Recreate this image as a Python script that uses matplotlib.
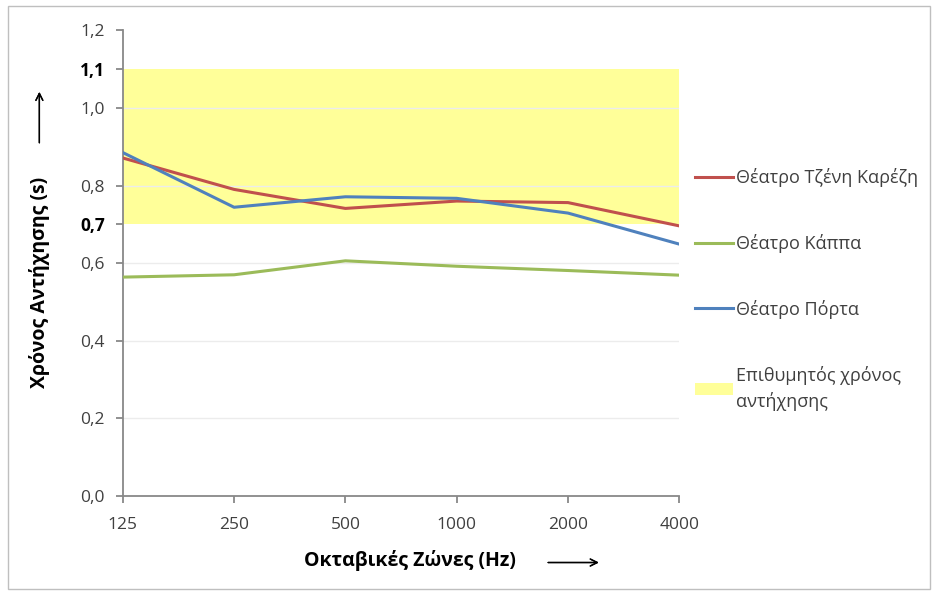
import matplotlib.pyplot as plt
from matplotlib.patches import Rectangle

bands = ["125", "250", "500", "1000", "2000", "4000"]
karezi = [0.871, 0.790, 0.741, 0.760, 0.756, 0.696]
kappa = [0.564, 0.570, 0.606, 0.592, 0.581, 0.569]
porta = [0.885, 0.744, 0.771, 0.767, 0.729, 0.649]
target_low, target_high = 0.7, 1.1
yticks = [0.0, 0.2, 0.4, 0.6, 0.7, 0.8, 1.0, 1.1, 1.2]

plt.rcParams['font.family'] = ['Open Sans', 'DejaVu Sans']

fig = plt.figure(figsize=(9.37, 5.94), dpi=100)
ax = fig.add_axes([0.131, 0.165, 0.594, 0.784])
fig.patches.append(Rectangle((0.009, 0.008), 0.984, 0.982, transform=fig.transFigure,
                             fill=False, edgecolor="#bfbfbf", linewidth=1))

x = list(range(len(bands)))
ax.fill_between(x, target_low, target_high, color="#ffff99", linewidth=0,
                label="Επιθυμητός χρόνος\nαντήχησης", zorder=1)
for v in [0.2, 0.4, 0.6, 0.8, 1.0]:
    ax.axhline(v, color="#ececec", linewidth=1, zorder=2)

ax.plot(x, karezi, color="#c0504d", linewidth=2.2, label="Θέατρο Τζένη Καρέζη", zorder=3)
ax.plot(x, kappa, color="#9bbb59", linewidth=2.2, label="Θέατρο Κάππα", zorder=3)
ax.plot(x, porta, color="#4f81bd", linewidth=2.2, label="Θέατρο Πόρτα", zorder=3)

ax.set_xlim(0, len(bands) - 1)
ax.set_ylim(0, 1.2)
ax.set_xticks(x)
ax.set_xticklabels(bands, fontsize=12.5, color="#404040")
ax.set_yticks(yticks)
ax.set_yticklabels([f"{v:.1f}".replace(".", ",") for v in yticks], fontsize=12.5, color="#404040")
for lbl, v in zip(ax.get_yticklabels(), yticks):
    if v in (target_low, target_high):
        lbl.set_fontweight("bold")
        lbl.set_color("black")

for side in ["top", "right"]:
    ax.spines[side].set_visible(False)
for side in ["left", "bottom"]:
    ax.spines[side].set_color("#888888")
    ax.spines[side].set_linewidth(1.3)
ax.tick_params(axis="both", direction="out", length=5, color="#888888", width=1.3)
ax.tick_params(axis="x", pad=10)
ax.tick_params(axis="y", pad=8)

# axis titles with long arrows
fig.text(0.042, 0.525, "Χρόνος Αντήχησης (s)", rotation=90, fontsize=14,
         fontweight="bold", ha="center", va="center")
arrow = dict(arrowstyle="->,head_length=0.5,head_width=0.25", color="black", linewidth=1)
fig.add_artist(plt.annotate("", xy=(0.042, 0.85), xytext=(0.042, 0.755),
                            xycoords="figure fraction", arrowprops=arrow))
fig.text(0.4375, 0.057, "Οκταβικές Ζώνες (Hz)", fontsize=14, fontweight="bold",
         ha="center", va="center")
fig.add_artist(plt.annotate("", xy=(0.642, 0.053), xytext=(0.582, 0.053),
                            xycoords="figure fraction", arrowprops=arrow))

handles, labels = ax.get_legend_handles_labels()
order = [1, 2, 3, 0]
leg = ax.legend([handles[i] for i in order], [labels[i] for i in order],
                loc="upper left", bbox_to_anchor=(1.015, 0.72), frameon=False,
                fontsize=13, labelspacing=2.6, handlelength=2.1,
                handletextpad=0.15, borderaxespad=0)
for t in leg.get_texts():
    t.set_color("#404040")
    t.set_linespacing(1.5)

fig.savefig("out.png", dpi=100)
